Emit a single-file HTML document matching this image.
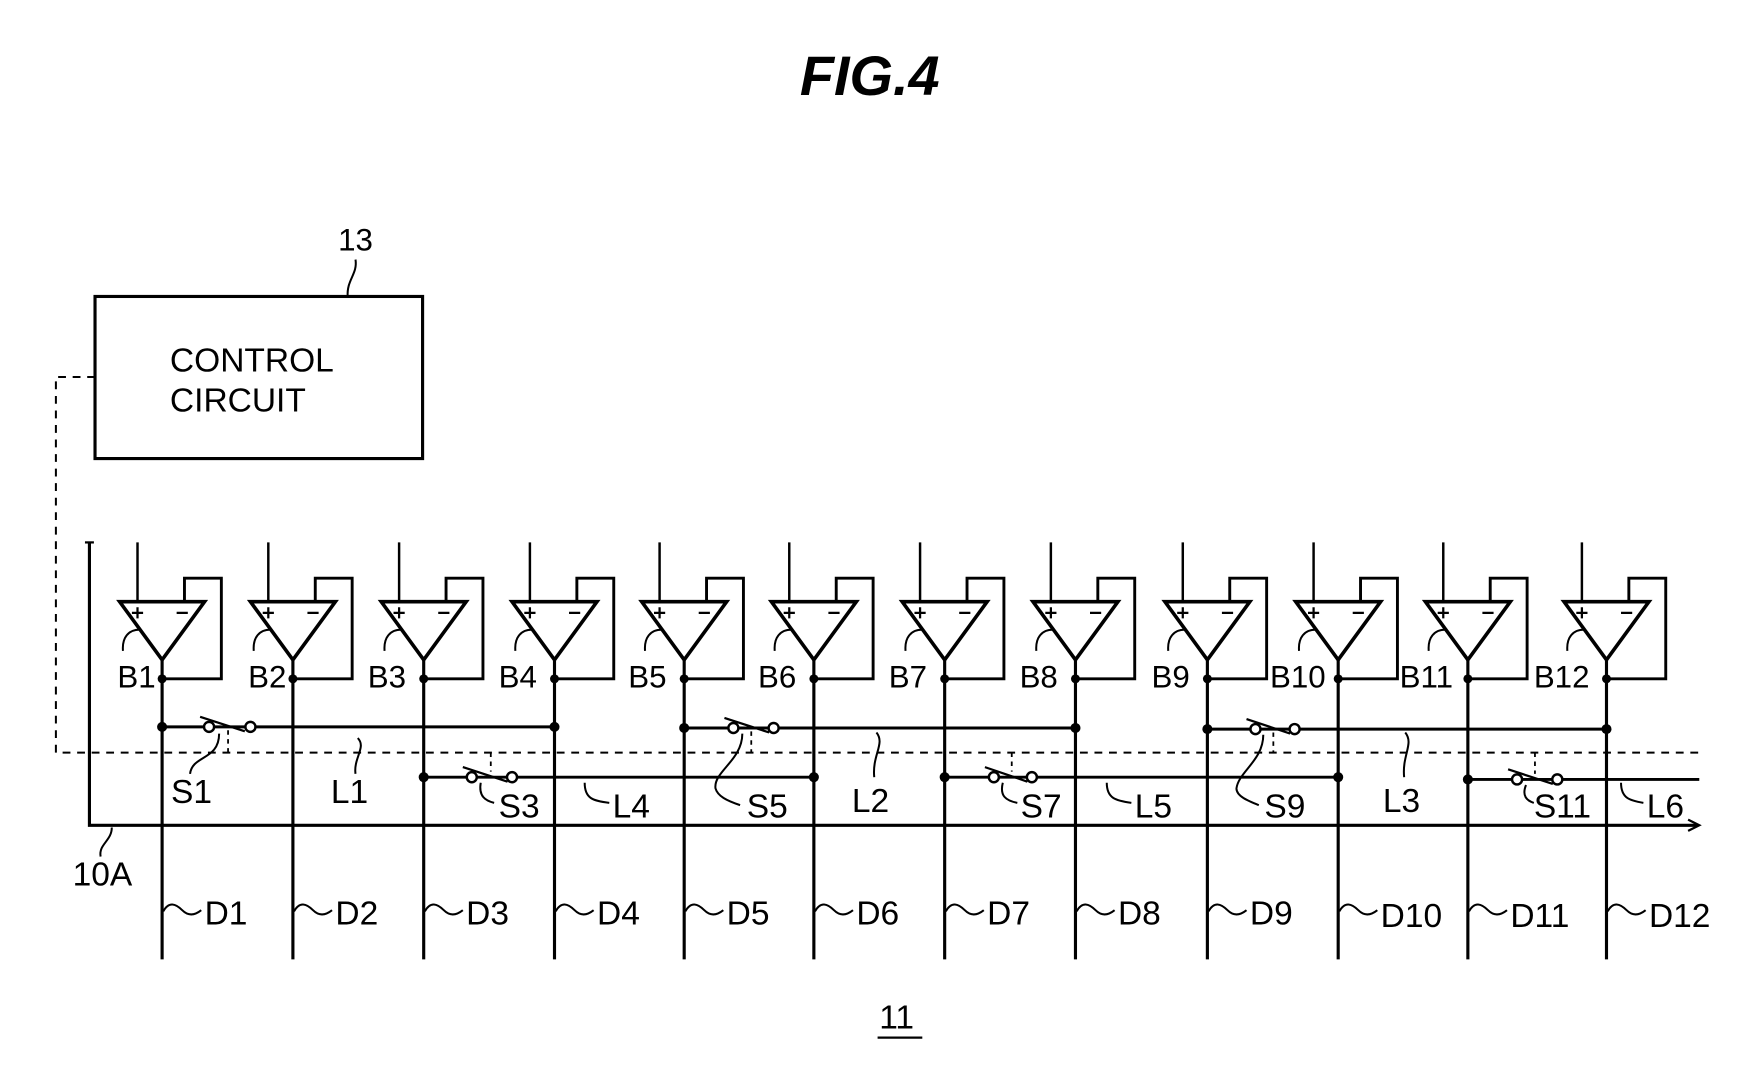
<!DOCTYPE html>
<html><head><meta charset="utf-8"><style>
html,body{margin:0;padding:0;background:#fff;}
svg{display:block;}
text{font-family:"Liberation Sans",sans-serif;fill:#000;}
</style></head><body>
<svg width="1744" height="1077" viewBox="0 0 1560 963" xmlns="http://www.w3.org/2000/svg">
<defs>
<g id="amp" fill="none" stroke="#000">
  <path d="M-22,485 V545" stroke-width="2.2"/>
  <path d="M-38,538 H38 L0,590 Z" stroke-width="3.2" fill="#fff"/>
  <path d="M-27,548 H-17 M-22,543 V553 M13,548 H23" stroke-width="2"/>
  <path d="M20,538 V517 H53 V607 H0" stroke-width="2.6"/>
  <path d="M0,590 V858" stroke-width="2.8"/>
  <circle cx="0" cy="607" r="4" fill="#000" stroke="none"/>
  <path d="M-20,563 C-30,563 -36,570 -35,582" stroke-width="1.8"/>
  <path d="M1,815 C6,806 12,808 18,814 C24,820 30,818 35,814" stroke-width="1.8"/>
</g>
</defs>

<text x="778" y="85" font-size="50" font-weight="bold" font-style="italic" text-anchor="middle">FIG.4</text>

<text x="318" y="224" font-size="28" text-anchor="middle">13</text>
<path d="M318,232 C320,245 310,250 311,265" fill="none" stroke="#000" stroke-width="1.8"/>
<rect x="85" y="265" width="293" height="145" fill="none" stroke="#000" stroke-width="2.8"/>
<text x="152" y="332" font-size="30">CONTROL</text>
<text x="152" y="368" font-size="30">CIRCUIT</text>

<path d="M85,337 H50 V673 H1520" fill="none" stroke="#000" stroke-width="1.8" stroke-dasharray="7,6"/>

<path d="M80,485 V738 H1518" fill="none" stroke="#000" stroke-width="2.8"/>
<path d="M76,485 H84" stroke="#000" stroke-width="2"/>
<path d="M1510,733 L1520,738 L1510,743" fill="none" stroke="#000" stroke-width="2"/>
<text x="65" y="792" font-size="30">10A</text>
<path d="M100,740 C100,752 88,755 90,766" fill="none" stroke="#000" stroke-width="1.8"/>

<use href="#amp" x="145"/><use href="#amp" x="262"/><use href="#amp" x="379"/><use href="#amp" x="496"/>
<use href="#amp" x="612"/><use href="#amp" x="728"/><use href="#amp" x="845"/><use href="#amp" x="962"/>
<use href="#amp" x="1080"/><use href="#amp" x="1197"/><use href="#amp" x="1313"/><use href="#amp" x="1437"/>

<g font-size="28">
<text x="105" y="615">B1</text><text x="222" y="615">B2</text><text x="329" y="615">B3</text><text x="446" y="615">B4</text>
<text x="562" y="615">B5</text><text x="678" y="615">B6</text><text x="795" y="615">B7</text><text x="912" y="615">B8</text>
<text x="1030" y="615">B9</text><text x="1136" y="615">B10</text><text x="1252" y="615">B11</text><text x="1372" y="615">B12</text>
</g>

<g font-size="30">
<text x="183" y="827">D1</text><text x="300" y="827">D2</text><text x="417" y="827">D3</text><text x="534" y="827">D4</text>
<text x="650" y="827">D5</text><text x="766" y="827">D6</text><text x="883" y="827">D7</text><text x="1000" y="827">D8</text>
<text x="1118" y="827">D9</text><text x="1235" y="829">D10</text><text x="1351" y="829">D11</text><text x="1475" y="829">D12</text>
</g>

<!-- switch lines -->
<g fill="none" stroke="#000" stroke-width="2.6">
<path d="M145,650 H182 M192,650 H496"/>
<path d="M612,651 H651 M661,651 H962"/>
<path d="M1080,652 H1118 M1128,652 H1437"/>
<path d="M379,695 H417 M427,695 H728"/>
<path d="M845,695 H884 M894,695 H1197"/>
<path d="M1313,697 H1352 M1362,697 H1520"/>
</g>
<g fill="#fff" stroke="#000" stroke-width="2.2">
<circle cx="187" cy="650" r="4.5"/><circle cx="224" cy="650" r="4.5"/>
<circle cx="656" cy="651" r="4.5"/><circle cx="692" cy="651" r="4.5"/>
<circle cx="1123" cy="652" r="4.5"/><circle cx="1158" cy="652" r="4.5"/>
<circle cx="422" cy="695" r="4.5"/><circle cx="458" cy="695" r="4.5"/>
<circle cx="889" cy="695" r="4.5"/><circle cx="923" cy="695" r="4.5"/>
<circle cx="1357" cy="697" r="4.5"/><circle cx="1393" cy="697" r="4.5"/>
</g>
<g fill="none" stroke="#000" stroke-width="2">
<path d="M179,641 L219,654"/><path d="M648,642 L688,655"/><path d="M1115,643 L1154,656"/>
<path d="M414,686 L454,699"/><path d="M881,686 L919,699"/><path d="M1349,688 L1389,701"/>
</g>
<g fill="none" stroke="#000" stroke-width="1.6" stroke-dasharray="4,4">
<path d="M204,653 V673"/><path d="M672,654 V673"/><path d="M1139,655 V673"/>
<path d="M439,673 V690"/><path d="M905,673 V690"/><path d="M1373,673 V692"/>
</g>
<g fill="#000">
<circle cx="145" cy="650" r="4.5"/><circle cx="496" cy="650" r="4.5"/>
<circle cx="612" cy="651" r="4.5"/><circle cx="962" cy="651" r="4.5"/>
<circle cx="1080" cy="652" r="4.5"/><circle cx="1437" cy="652" r="4.5"/>
<circle cx="379" cy="695" r="4.5"/><circle cx="728" cy="695" r="4.5"/>
<circle cx="845" cy="695" r="4.5"/><circle cx="1197" cy="695" r="4.5"/>
<circle cx="1313" cy="697" r="4.5"/>
</g>

<!-- S / L labels and leaders -->
<g font-size="30">
<text x="153" y="718">S1</text><text x="296" y="718">L1</text>
<text x="446" y="731">S3</text><text x="548" y="731">L4</text>
<text x="668" y="731">S5</text><text x="762" y="726">L2</text>
<text x="913" y="731">S7</text><text x="1015" y="731">L5</text>
<text x="1131" y="731">S9</text><text x="1237" y="726">L3</text>
<text x="1372" y="731">S11</text><text x="1473" y="731">L6</text>
</g>
<g fill="none" stroke="#000" stroke-width="1.8">
<path d="M196,656 C196,680 172,675 170,692"/>
<path d="M320,660 C328,668 316,678 318,692"/>
<path d="M430,700 C428,712 434,716 442,718"/>
<path d="M523,700 C523,714 530,716 545,718"/>
<path d="M664,656 C664,680 638,690 640,705 C642,712 650,716 662,720"/>
<path d="M784,655 C792,665 780,675 782,695"/>
<path d="M897,700 C894,712 900,716 910,718"/>
<path d="M990,700 C990,714 998,716 1012,718"/>
<path d="M1130,657 C1130,680 1108,690 1106,705 C1106,712 1116,716 1126,720"/>
<path d="M1257,655 C1265,665 1254,675 1256,695"/>
<path d="M1365,702 C1361,712 1366,716 1372,718"/>
<path d="M1450,700 C1450,714 1458,716 1470,718"/>
</g>

<text x="802" y="920" font-size="30" text-anchor="middle">11</text>
<path d="M785,928 H825" stroke="#000" stroke-width="2"/>
</svg>
</body></html>
